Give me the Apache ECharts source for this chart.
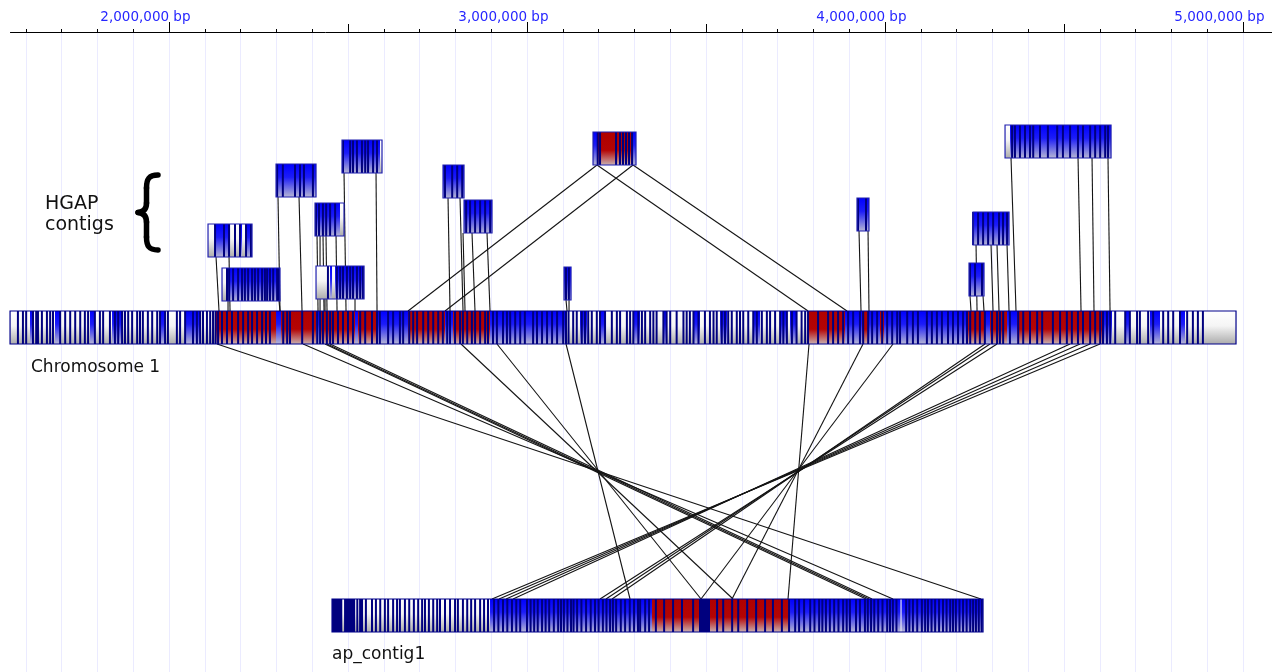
<!DOCTYPE html>
<html><head><meta charset="utf-8">
<script src="https://cdn.jsdelivr.net/npm/echarts@6/dist/echarts.min.js"></script>
<style>html,body{margin:0;padding:0;background:#fff}#c{width:1272px;height:672px}</style>
</head><body><div id="c"></div>
<script>
// ---------------- DATA (positions in kb along the reference axis) ----------------
const tickLabelValues = [2000, 3000, 4000, 5000];
const tickLabels = ['2,000,000 bp', '3,000,000 bp', '4,000,000 bp', '5,000,000 bp'];
const halfTickValues = [2500, 3500, 4500];
const rulerRange = [1556, 5081];

// bar 0 = Chromosome 1, bar 1 = ap_contig1, bars 2..15 = HGAP contigs
const barNames = ['Chromosome 1', 'ap_contig1', 'hgap1', 'hgap2', 'hgap3', 'hgap4', 'hgap5', 'hgap6', 'hgap7',
  'hgap8', 'hgap9', 'hgap10', 'hgap11', 'hgap12', 'hgap13', 'hgap14'];
const barStart = [1556, 2455.4, 2109, 2148.1, 2299, 2407.9, 2410.7, 2483.3, 2765.4, 2824.1, 3103.4, 3184.4, 3921.8, 4234.7, 4245.9, 4335.3];
const barEnd = [4980.5, 4273.8, 2231.9, 2310.1, 2410.7, 2488.9, 2544.8, 2595, 2824.1, 2902.3, 3123, 3304.5, 3955.3, 4276.6, 4346.5, 4631.4];
const barRow = [279, 567, 192, 236, 132, 171, 234, 108, 133, 168, 235, 100, 166, 231, 180, 93];

// colour blocks: w = unaligned (white), b = blue, r = red
const chromSegments = [
  [1556, 2128.6, 'w'], [2128.6, 2581.1, 'r'], [2581.1, 2667.7, 'b'], [2667.7, 2771, 'r'], [2771, 2793.4, 'b'],
  [2793.4, 2896.7, 'r'], [2896.7, 3111.8, 'b'], [3111.8, 3785, 'w'], [3785, 3888.3, 'r'], [3888.3, 4231.9, 'b'],
  [4231.9, 4340.9, 'r'], [4340.9, 4368.8, 'b'], [4368.8, 4609, 'r'], [4609, 4634.2, 'b'], [4634.2, 4980.5, 'w'],
  [1611.8, 1623, 'b'], [1681.6, 1695.6, 'b'], [1779.4, 1793.4, 'b'], [1840.9, 1868.8, 'b'], [1974.9, 1988.9, 'b'],
  [2044.8, 2086.7, 'b'], [2299, 2313, 'b'], [2410.7, 2421.9, 'b'], [2519.6, 2528, 'b'], [3148.1, 3167.7, 'b'],
  [3204, 3218, 'b'], [3296.2, 3315.7, 'b'], [3380, 3391.1, 'b'], [3463.8, 3483.3, 'b'], [3539.2, 3558.8, 'b'],
  [3631.4, 3651, 'b'], [3706.8, 3726.3, 'b'], [3734.7, 3754.3, 'b'], [3935.8, 3952.6, 'r'], [3986.1, 3997.2, 'r'],
  [4279.4, 4293.4, 'b'], [4670.5, 4684.4, 'b'], [4740.3, 4768.2, 'b'], [4824.1, 4838, 'b']
];
const chromStripes = [
  1578, 1592, 1601, 1620, 1629, 1634, 1645, 1659, 1668, 1676, 1696, 1710, 1724, 1738, 1752, 1765, 1774, 1793, 1807, 1816,
  1835, 1849, 1858, 1869, 1877, 1886, 1897, 1911, 1919, 1927, 1941, 1953, 1967, 1975, 1989, 1997, 2022, 2031, 2045, 2067,
  2078, 2087, 2095, 2106, 2115, 2123,
  2130, 2137, 2148, 2162, 2176, 2193, 2207, 2221, 2232, 2246, 2260, 2271, 2282, 2319, 2330, 2338, 2372, 2402, 2414, 2422,
  2430, 2441, 2450, 2458, 2472, 2486, 2500, 2514, 2534, 2548, 2567, 2581,
  2589, 2612, 2626, 2645, 2654, 2671, 2682, 2693, 2710, 2724, 2738, 2752, 2765, 2777, 2785, 2799, 2813, 2821, 2833, 2846,
  2855, 2869, 2883, 2891, 2905, 2916, 2933, 2944, 2953, 2967, 2981, 2994, 3017, 3028, 3042, 3056, 3070, 3084, 3101, 3109,
  3116, 3129, 3139, 3153, 3162, 3171, 3181, 3195, 3204, 3218, 3237, 3251, 3260, 3279, 3288, 3297, 3311, 3321, 3330, 3344,
  3353, 3362, 3381, 3390, 3400, 3418, 3437, 3446, 3455, 3465, 3479, 3497, 3511, 3521, 3530, 3544, 3553, 3562, 3572, 3586,
  3595, 3604, 3618, 3632, 3642, 3656, 3670, 3679, 3693, 3707, 3716, 3726, 3740, 3753, 3767, 3777,
  3785, 3813, 3841, 3855, 3869, 3883, 3897, 3911, 3930, 3939, 3953, 3964, 3978, 3992, 4006, 4020, 4034, 4042, 4062, 4078,
  4092, 4117, 4131, 4145, 4159, 4176, 4190, 4204, 4218, 4229, 4238, 4252, 4265, 4279, 4299, 4313, 4321, 4330, 4349, 4372,
  4386, 4405, 4425, 4439, 4469, 4489, 4508, 4522, 4539, 4553, 4573, 4587, 4601, 4609, 4620, 4629, 4643, 4671, 4684, 4704,
  4712, 4735, 4749, 4777, 4791, 4805, 4824, 4844, 4860, 4874, 4888
];

const apSegments = [[2455.4, 2896.7, 'w'], [2896.7, 3349.2, 'b'], [3349.2, 3734.7, 'r'], [3734.7, 4273.8, 'b']];
const apStripes = [
  [2455.4, 2484], [2489, 2520], 2526, [2531, 2542], 2550, 2567, 2578, 2590, 2603, 2612, 2626, 2637, 2645, 2659, 2671, 2684, 2696, 2707,
  2715, 2726, 2738, 2749, 2757, 2771, 2785, 2799, 2807, 2821, 2833, 2844, 2855, 2869, 2880, 2891,
  2908, 2920, 2933, 2945, 2958, 2970, 2981, 3000, 3010, 3020, 3030, 3042, 3052, 3062, 3075, 3087, 3095, 3103, 3113, 3123,
  3130, 3140, 3152, 3165, 3178, 3190, 3200, 3212, 3222, 3232, 3240, 3249, 3262, 3274, 3287, 3299, 3310, 3316, 3330, 3341,
  3360, 3383, 3408, 3433, 3464, [3480.5, 3511.2], 3531, 3548, 3573, 3590, 3615, 3640, 3665, 3687, 3712, 3732,
  3749, 3760, 3774, 3791, 3803, 3816, 3825, 3835, 3846, 3858, 3870, 3883, 3893, 3902, 3919, 3930, 3944, 3952, 3961, 3970,
  3981, 3993, 4006, 4014, 4022, 4032, 4059, 4068, 4078, 4090, 4103, 4112, 4120, 4130, 4140, 4151, 4162, 4172, 4182, 4190,
  4198, 4208, 4218, 4228, 4238, 4246, 4254, 4262, 4270
];
const apDividers = [4044.8];

const contigSegments = [
  [[2109, 2128.6, 'w'], [2128.6, 2231.9, 'b'], [2170.5, 2181.6, 'w'], [2187.2, 2195.6, 'w'], [2204, 2212.4, 'w']],
  [[2148.1, 2162.1, 'w'], [2162.1, 2310.1, 'b']],
  [[2299, 2410.7, 'b']],
  [[2407.9, 2477.7, 'b'], [2477.7, 2488.9, 'w']],
  [[2410.7, 2449.8, 'w'], [2449.8, 2544.8, 'b'], [2455.4, 2463.8, 'w']],
  [[2483.3, 2589.5, 'b'], [2589.5, 2595, 'w']],
  [[2765.4, 2824.1, 'b']],
  [[2824.1, 2902.3, 'b']],
  [[3103.4, 3123, 'b']],
  [[3184.4, 3195.6, 'b'], [3195.6, 3293.4, 'r'], [3293.4, 3304.5, 'b']],
  [[3921.8, 3955.3, 'b']],
  [[4234.7, 4276.6, 'b']],
  [[4245.9, 4346.5, 'b']],
  [[4335.3, 4349.2, 'w'], [4349.2, 4631.4, 'b']]
];
const contigStripes = [
  [2128.6, 2153.7, 2167.7, 2184.4, 2198.4, 2215.2, 2229.1],
  [2162, 2168, 2179, 2193, 2204, 2212, 2221, 2232, 2240, 2249, 2260, 2268, 2274, 2282, 2291, 2302, 2307],
  [2302, 2318, 2352, 2366, 2377, 2402],
  [2410.7, 2419, 2430, 2439, 2450, 2464],
  [2444, 2469, 2478, 2486, 2497, 2506, 2514, 2525, 2534, 2542],
  [2486, 2506, 2514, 2525, 2539, 2548, 2556, 2570, 2581],
  [2771, 2791, 2805, 2819],
  [2830, 2841, 2855, 2869, 2883, 2897],
  [3109, 3117],
  [3197.5, 3204, 3248.7, 3259.8, 3268.2, 3276.6, 3285, 3293.4],
  [3924.6, 3946.9],
  [4237.5, 4251.5, 4271],
  [4246, 4260, 4274, 4288, 4302, 4318.5, 4329.7, 4340.9],
  [4355, 4363, 4377, 4391, 4405, 4414, 4433, 4455, 4481, 4497, 4517, 4539, 4553, 4573, 4587, 4601, 4615, 4623]
];

// links from a contig (bar index) down to Chromosome 1: [bar, contig kb, chromosome kb]
const contigLinks = [
  [2, 2131.4, 2139.7], [2, 2167.7, 2170.5], [3, 2164.9, 2164.9], [3, 2307.3, 2310.1],
  [4, 2304.5, 2310.1], [4, 2363.2, 2371.6], [5, 2413.5, 2416.3], [5, 2421.9, 2421.9], [5, 2430.2, 2433],
  [5, 2438.6, 2441.4], [5, 2466.6, 2469.4], [6, 2435.8, 2435.8], [6, 2519.6, 2519.6], [7, 2488.9, 2494.5],
  [7, 2578.3, 2581.1], [8, 2779.4, 2785], [8, 2812.9, 2821.3], [9, 2821.3, 2826.9], [9, 2846.4, 2854.8],
  [9, 2888.3, 2896.7], [10, 3109, 3111.8], [10, 3117.4, 3117.4], [11, 3195.6, 2667.7], [11, 3296.2, 2771],
  [11, 3195.6, 3785], [11, 3296.2, 3893.9], [12, 3927.4, 3933], [12, 3952.6, 3955.3], [13, 4237.5, 4240.3],
  [13, 4273.8, 4276.6], [14, 4254.3, 4257.1], [14, 4296.2, 4301.8], [14, 4312.9, 4318.5], [14, 4340.9, 4346.5],
  [15, 4352, 4366], [15, 4539.2, 4547.6], [15, 4578.3, 4583.8], [15, 4622.9, 4628.6]
];
// links from Chromosome 1 down to ap_contig1: [chromosome kb, ap_contig1 kb]
const chromApLinks = [
  [2134.1, 4268.2], [2374.4, 4022.4], [2435.8, 3947], [2441.4, 3955.3], [2449.8, 3963.8], [2815.7, 3575.5],
  [2916.2, 3486.1], [3109, 3287.8], [3787.8, 3729.1], [3938.6, 3572.7], [4022.4, 3486.1], [4279.4, 3237.5],
  [4293.4, 3220.7], [4312.9, 3204], [4516.8, 2961], [4544.8, 2941.4], [4572.7, 2921.9], [4600.6, 2902.3]
];

// ---------------- RENDERING ----------------
const BAR_H = 33;
function grad(stops) {
  return {type: 'linear', x: 0, y: 0, x2: 0, y2: 1, colorStops: stops.map(([o, c]) => ({offset: o, color: c}))};
}
const GRAD = {
  w: grad([[0, '#ffffff'], [0.45, '#f5f5f5'], [1, '#acacac']]),
  b: grad([[0, '#0000ff'], [0.4, '#1c1cf8'], [1, '#b6b6d4']]),
  r: grad([[0, '#b00000'], [0.55, '#b40404'], [1, '#c8b0b0']])
};
const NAVY = '#00007e';
const STRIPE_W = 2;
const segmentsOf = [chromSegments, apSegments].concat(contigSegments);
const stripesOf = [chromStripes, apStripes].concat(contigStripes);

function renderBar(params, api) {
  const idx = api.value(3), top = api.value(2);
  const y = api.coord([api.value(0), top])[1];
  const h = Math.abs(api.size([0, BAR_H])[1]);
  const X = v => api.coord([v, top])[0];
  const ch = [];
  segmentsOf[idx].forEach(([a, b, t]) => {
    ch.push({type: 'rect', shape: {x: X(a), y: y, width: X(b) - X(a), height: h}, style: {fill: GRAD[t]}});
  });
  stripesOf[idx].forEach(s => {
    if (Array.isArray(s)) {
      ch.push({type: 'rect', shape: {x: X(s[0]), y: y, width: X(s[1]) - X(s[0]), height: h}, style: {fill: NAVY}});
    } else {
      ch.push({type: 'rect', shape: {x: X(s) - STRIPE_W / 2, y: y, width: STRIPE_W, height: h}, style: {fill: NAVY}});
    }
  });
  if (idx === 1) {
    apDividers.forEach(v => ch.push({type: 'rect', shape: {x: X(v) - 0.6, y: y, width: 1.2, height: h}, style: {fill: '#e8e8f4'}}));
  }
  const x0 = X(api.value(0)), x1 = X(api.value(1));
  ch.push({type: 'rect', shape: {x: x0, y: y, width: x1 - x0, height: h},
    style: {fill: 'none', stroke: idx < 2 ? '#00008a' : '#2020b0', lineWidth: 1.2}});
  return {type: 'group', children: ch};
}

function renderLink(params, api) {
  const p1 = api.coord([api.value(0), api.value(1)]);
  const p2 = api.coord([api.value(2), api.value(3)]);
  return {type: 'line', shape: {x1: p1[0], y1: p1[1], x2: p2[0], y2: p2[1]},
    style: {stroke: '#141414', lineWidth: 1.1}};
}

function renderRuler(params, api) {
  const p1 = api.coord([api.value(0), 0]);
  const p2 = api.coord([api.value(1), 0]);
  return {type: 'line', shape: {x1: p1[0], y1: p1[1] + 0.5, x2: p2[0], y2: p2[1] + 0.5}, style: {stroke: '#000', lineWidth: 1}};
}

function renderHalfTick(params, api) {
  const p = api.coord([api.value(0), 0]);
  const x = Math.round(p[0]) + 0.5;
  return {type: 'line', shape: {x1: x, y1: p[1], x2: x, y2: p[1] - 8}, style: {stroke: '#000', lineWidth: 1}};
}

function renderTickLabel(params, api) {
  const p = api.coord([api.value(0), 0]);
  const x = Math.round(p[0]) + 0.5;
  return {type: 'group', children: [
    {type: 'line', shape: {x1: x, y1: p[1], x2: x, y2: p[1] - 10}, style: {stroke: '#000', lineWidth: 1}},
    {type: 'text', style: {text: tickLabels[api.value(2)], x: p[0] + 21.5, y: p[1] - 15, align: 'right', verticalAlign: 'middle',
      font: '13.5px "DejaVu Sans"', fill: '#2626ff'}}
  ]};
}

const barData = barStart.map((s, i) => [s, barEnd[i], barRow[i], i]);
const linkData = contigLinks.map(([c, a, b]) => [a, barRow[c] + BAR_H, b, barRow[0]])
  .concat(chromApLinks.map(([a, b]) => [a, barRow[0] + BAR_H, b, barRow[1]]));

const braceStyle = {fill: 'none', stroke: '#000', lineWidth: 5.5, lineCap: 'round'};
const chart = echarts.init(document.getElementById('c'), null, {renderer: 'canvas'});
chart.setOption({
  animation: false,
  backgroundColor: '#ffffff',
  grid: {left: 25.8, right: 29, top: 32, bottom: 0},
  xAxis: {
    type: 'value', position: 'top', min: 1600, max: 5000, interval: 100,
    axisLine: {show: false},
    axisTick: {show: true, length: 3, lineStyle: {color: '#000', width: 1}},
    axisLabel: {show: false},
    splitLine: {show: true, lineStyle: {color: '#ebebff', width: 1}}
  },
  yAxis: {type: 'value', inverse: true, min: 0, max: 640, show: false, splitLine: {show: false}},
  graphic: [
    {type: 'text', silent: true, z: 10, style: {text: 'HGAP', x: 45, y: 204, font: '19px "DejaVu Sans"', fill: '#111', align: 'left', verticalAlign: 'middle'}},
    {type: 'text', silent: true, z: 10, style: {text: 'contigs', x: 45, y: 225, font: '19px "DejaVu Sans"', fill: '#111', align: 'left', verticalAlign: 'middle'}},
    {type: 'bezierCurve', silent: true, z: 10, shape: {x1: 158, y1: 175, cpx1: 149, cpy1: 175, cpx2: 146.5, cpy2: 179, x2: 146.5, y2: 188}, style: braceStyle},
    {type: 'line', silent: true, z: 10, shape: {x1: 146.5, y1: 188, x2: 146.5, y2: 203}, style: braceStyle},
    {type: 'bezierCurve', silent: true, z: 10, shape: {x1: 146.5, y1: 203, cpx1: 146.5, cpy1: 209, cpx2: 143, cpy2: 212, x2: 138, y2: 212.5}, style: braceStyle},
    {type: 'bezierCurve', silent: true, z: 10, shape: {x1: 138, y1: 212.5, cpx1: 143, cpy1: 213, cpx2: 146.5, cpy2: 216, x2: 146.5, y2: 222}, style: braceStyle},
    {type: 'line', silent: true, z: 10, shape: {x1: 146.5, y1: 222, x2: 146.5, y2: 237}, style: braceStyle},
    {type: 'bezierCurve', silent: true, z: 10, shape: {x1: 146.5, y1: 237, cpx1: 146.5, cpy1: 246, cpx2: 149, cpy2: 250, x2: 158, y2: 250}, style: braceStyle},
    {type: 'text', silent: true, z: 10, style: {text: barNames[0], x: 31, y: 368, font: '17px "DejaVu Sans"', fill: '#111', align: 'left', verticalAlign: 'middle'}},
    {type: 'text', silent: true, z: 10, style: {text: barNames[1], x: 332, y: 655, font: '17px "DejaVu Sans"', fill: '#111', align: 'left', verticalAlign: 'middle'}}
  ],
  series: [
    {type: 'custom', name: 'links', silent: true, renderItem: renderLink, encode: {x: [0, 2], y: [1, 3]}, data: linkData},
    {type: 'custom', name: 'tracks', silent: true, renderItem: renderBar, encode: {x: [0, 1], y: 2}, data: barData},
    {type: 'custom', name: 'ruler', silent: true, renderItem: renderRuler, encode: {x: [0, 1]}, data: [rulerRange]},
    {type: 'custom', name: 'halfticks', silent: true, renderItem: renderHalfTick, encode: {x: 0}, data: halfTickValues.map(v => [v])},
    {type: 'custom', name: 'ticklabels', silent: true, renderItem: renderTickLabel, encode: {x: 0, y: 1},
      data: tickLabelValues.map((v, i) => [v, 0, i])}
  ]
});
</script></body></html>
